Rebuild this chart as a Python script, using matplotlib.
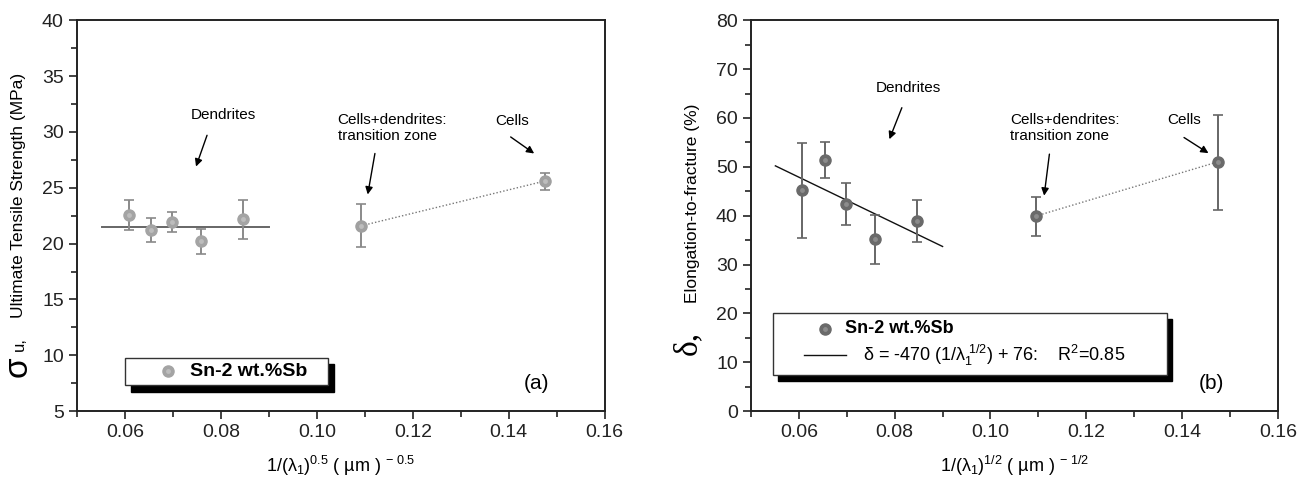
import numpy as np
import matplotlib
matplotlib.use("Agg")
import matplotlib.pyplot as plt
from matplotlib.patches import Rectangle
from matplotlib.ticker import MultipleLocator

plt.rcParams['font.family'] = ['Liberation Sans', 'DejaVu Sans']
plt.rcParams['mathtext.fontset'] = 'custom'
plt.rcParams['mathtext.rm'] = 'Liberation Sans'
plt.rcParams['mathtext.it'] = 'Liberation Sans'
plt.rcParams['mathtext.sf'] = 'Liberation Sans'

# ---- data ----
# (a) ultimate tensile strength
uts_x = [0.0608, 0.0654, 0.0698, 0.0758, 0.0847]
uts_y = [22.55, 21.2, 21.9, 20.25, 22.2]
uts_lo = [21.2, 20.1, 21.0, 19.1, 20.4]
uts_hi = [23.9, 22.25, 22.8, 21.3, 23.95]
uts_fit_x = [0.0551, 0.0900]
uts_fit_y = [21.5, 21.5]
uts_tr_x = [0.1093, 0.1475]
uts_tr_y = [21.6, 25.6]
uts_tr_lo = [19.7, 24.8]
uts_tr_hi = [23.55, 26.3]

# (b) elongation to fracture
el_x = [0.0607, 0.0654, 0.0698, 0.0759, 0.0846]
el_y = [45.3, 51.5, 42.3, 35.2, 39.0]
el_lo = [35.5, 47.8, 38.1, 30.1, 34.6]
el_hi = [54.9, 55.0, 46.7, 40.1, 43.3]
el_fit_x = [0.0551, 0.0900]
el_fit_y = [50.2, 33.7]
el_tr_x = [0.1094, 0.1474]
el_tr_y = [39.9, 51.0]
el_tr_lo = [35.8, 41.2]
el_tr_hi = [43.8, 60.6]

fig = plt.figure(figsize=(13.06, 4.82), dpi=100)
axa = fig.add_axes([0.059, 0.147, 0.404, 0.811])
axb = fig.add_axes([0.575, 0.147, 0.4035, 0.811])


def spheres(ax, x, y, lo, hi, face, shine, bar):
    x = np.array(x); y = np.array(y)
    err = [y - np.array(lo), np.array(hi) - y]
    ax.errorbar(x, y, yerr=err, fmt='none', ecolor=bar, elinewidth=1.4,
                capsize=3.5, capthick=1.2, zorder=3)
    ax.plot(x, y, 'o', ms=8, mfc=face, mec=face, zorder=4)
    ax.plot(x, y, 'o', ms=3.5, mfc=shine, mec='none', zorder=5)


def style(ax):
    for s in ax.spines.values():
        s.set_linewidth(1.4)
        s.set_color('#222222')
    ax.tick_params(which='both', direction='out', top=False, right=False,
                   width=1.2, labelsize=14, colors='#222222')
    ax.tick_params(which='major', length=6)
    ax.tick_params(which='minor', length=4)
    ax.xaxis.set_minor_locator(MultipleLocator(0.01))
    ax.set_xlim(0.05, 0.16)
    ax.set_xticks([0.06, 0.08, 0.10, 0.12, 0.14, 0.16])
    ax.set_xticklabels(['0.06', '0.08', '0.10', '0.12', '0.14', '0.16'])


def arrow(ax, p0, p1):
    ax.annotate('', xy=p1, xytext=p0,
                arrowprops=dict(arrowstyle='-|>', lw=1.0, color='black',
                                mutation_scale=11, shrinkA=0, shrinkB=0))


def legend_box(ax, x0, y0, x1, y1, dx=0.012, dy=0.016):
    ax.add_patch(Rectangle((x0 + dx, y0 - dy), x1 - x0, y1 - y0, transform=ax.transAxes,
                           facecolor='black', edgecolor='black', zorder=6))
    ax.add_patch(Rectangle((x0, y0), x1 - x0, y1 - y0, transform=ax.transAxes,
                           facecolor='white', edgecolor='#333333', lw=1.0, zorder=7))


# ---------- (a) ----------
style(axa)
axa.set_ylim(5, 40)
axa.yaxis.set_major_locator(MultipleLocator(5))
axa.yaxis.set_minor_locator(MultipleLocator(2.5))
axa.plot(uts_fit_x, uts_fit_y, color='#666666', lw=1.4, zorder=2)
axa.plot(uts_tr_x, uts_tr_y, color='#777777', lw=1.0, ls=(0, (1, 1.5)), zorder=2)
spheres(axa, uts_x, uts_y, uts_lo, uts_hi, '#a4a4a4', '#bdbdbd', '#8a8a8a')
spheres(axa, uts_tr_x, uts_tr_y, uts_tr_lo, uts_tr_hi, '#a0a0a0', '#bdbdbd', '#8a8a8a')

axa.text(0.0806, 31.5, 'Dendrites', ha='center', va='center', fontsize=11)
arrow(axa, (0.0771, 29.7), (0.0748, 26.9))
axa.text(0.1043, 31.7, 'Cells+dendrites:\ntransition zone', ha='left', va='top',
         fontsize=11, linespacing=1.15)
arrow(axa, (0.1121, 28.07), (0.1106, 24.4))
axa.text(0.1408, 31.0, 'Cells', ha='center', va='center', fontsize=11)
arrow(axa, (0.1404, 29.55), (0.1453, 28.07))
axa.text(0.1458, 7.5, '(a)', ha='center', va='center', fontsize=15)

legend_box(axa, 0.091, 0.066, 0.475, 0.137)
axa.plot([0.172], [0.102], 'o', ms=8, mfc='#a4a4a4', mec='#a4a4a4',
         transform=axa.transAxes, zorder=8, clip_on=False)
axa.plot([0.172], [0.102], 'o', ms=3.5, mfc='#bdbdbd', mec='none',
         transform=axa.transAxes, zorder=9, clip_on=False)
axa.text(0.214, 0.101, 'Sn-2 wt.%Sb', transform=axa.transAxes, ha='left',
         va='center', fontsize=14, fontweight='bold', zorder=9)

axa.set_xlabel(r'1/(λ$_{1}$)$^{0.5}$ ( µm ) $^{-\ 0.5}$', fontsize=13, labelpad=9)

fig.text(18 / 1306, 1 - 367 / 482, 'σ', rotation=90,
         ha='center', va='center', fontsize=24)
fig.text(19 / 1306, 1 - 344 / 482, 'u,', rotation=90,
         ha='center', va='center', fontsize=12)
fig.text(19 / 1306, 1 - 195 / 482, 'Ultimate Tensile Strength (MPa)', rotation=90,
         ha='center', va='center', fontsize=12.5)

# ---------- (b) ----------
style(axb)
axb.set_ylim(0, 80)
axb.yaxis.set_major_locator(MultipleLocator(10))
axb.yaxis.set_minor_locator(MultipleLocator(5))
axb.plot(el_fit_x, el_fit_y, color='#111111', lw=1.0, zorder=2)
axb.plot(el_tr_x, el_tr_y, color='#777777', lw=1.0, ls=(0, (1, 1.5)), zorder=2)
spheres(axb, el_x, el_y, el_lo, el_hi, '#6a6a6a', '#8c8c8c', '#666666')
spheres(axb, el_tr_x, el_tr_y, el_tr_lo, el_tr_hi, '#6a6a6a', '#8c8c8c', '#666666')

axb.text(0.0828, 66.1, 'Dendrites', ha='center', va='center', fontsize=11)
arrow(axb, (0.0815, 62.1), (0.0789, 55.65))
axb.text(0.1041, 61.0, 'Cells+dendrites:\ntransition zone', ha='left', va='top',
         fontsize=11, linespacing=1.15)
arrow(axb, (0.1123, 52.6), (0.1112, 44.1))
axb.text(0.1405, 59.5, 'Cells', ha='center', va='center', fontsize=11)
arrow(axb, (0.1404, 56.0), (0.1455, 52.8))
axb.text(0.1462, 5.7, '(b)', ha='center', va='center', fontsize=15)

legend_box(axb, 0.042, 0.092, 0.789, 0.251, dx=0.01, dy=0.016)
axb.plot([0.14], [0.211], 'o', ms=8, mfc='#6a6a6a', mec='#6a6a6a',
         transform=axb.transAxes, zorder=8, clip_on=False)
axb.plot([0.14], [0.211], 'o', ms=3.5, mfc='#8c8c8c', mec='none',
         transform=axb.transAxes, zorder=9, clip_on=False)
axb.text(0.178, 0.211, 'Sn-2 wt.%Sb', transform=axb.transAxes, ha='left',
         va='center', fontsize=13, fontweight='bold', zorder=9)
axb.plot([0.1006, 0.180], [0.143, 0.143], color='#111111', lw=1.0,
         transform=axb.transAxes, zorder=8)
axb.text(0.212, 0.143,
         r'δ = -470 (1/λ$_{1}^{\ 1/2}$) + 76:    R$^{2}$=0.85',
         transform=axb.transAxes, ha='left', va='center', fontsize=13, zorder=9)

axb.set_xlabel(r'1/(λ$_{1}$)$^{1/2}$ ( µm ) $^{-\ 1/2}$', fontsize=13, labelpad=9)

fig.text(688 / 1306, 1 - 343 / 482, 'δ,', rotation=90, family='Liberation Serif',
         ha='center', va='center', fontsize=24)
fig.text(693 / 1306, 1 - 203 / 482, 'Elongation-to-fracture (%)', rotation=90,
         ha='center', va='center', fontsize=12.5)

fig.savefig('out.png', dpi=100)
